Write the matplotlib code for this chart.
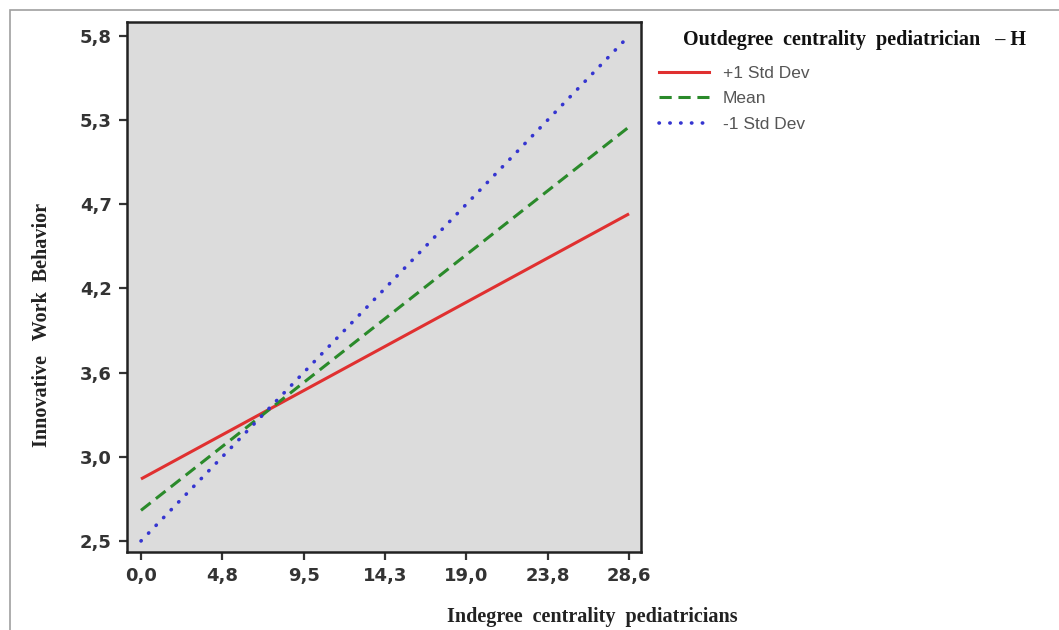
import numpy as np
import matplotlib
matplotlib.use('Agg')
import matplotlib.pyplot as plt
from matplotlib.lines import Line2D
from matplotlib.patches import Rectangle

# ── Data ──────────────────────────────────────────────────
x_range = [0.0, 28.6]
series_names = ['+1 Std Dev', 'Mean', '-1 Std Dev']
plus_sd = [2.905, 4.637]
mean_vals = [2.70, 5.205]
minus_sd = [2.50, 5.80]

x_ticks = np.linspace(0.0, 28.6, 7)
x_tick_labels = ['0,0', '4,8', '9,5', '14,3', '19,0', '23,8', '28,6']
y_ticks = np.linspace(2.5, 5.8, 7)
y_tick_labels = ['2,5', '3,0', '3,6', '4,2', '4,7', '5,3', '5,8']

colors = ['#e03030', '#2a8a2a', '#3535d0']

fig = plt.figure(figsize=(10.59, 6.30), dpi=100)
fig.patch.set_facecolor('white')

# outer grey frame
fig.patches.append(Rectangle((10 / 1059, -0.05), 1.1, 1 - 10 / 630 + 0.05,
                             transform=fig.transFigure, fill=False,
                             edgecolor='#a0a0a0', linewidth=1.2))

ax = fig.add_axes([127 / 1059, 1 - 552 / 630, (641 - 127) / 1059, (552 - 22) / 630])
ax.set_facecolor('#dcdcdc')

ax.plot(x_range, plus_sd, color=colors[0], lw=2.2, solid_capstyle='butt')
ax.plot(x_range, mean_vals, color=colors[1], lw=2.2, linestyle=(0, (4, 2.2)))
ax.plot(x_range, minus_sd, color=colors[2], lw=2.6, linestyle=(0, (0.1, 2.9)),
        dash_capstyle='round')

ax.set_xlim(-0.82, 29.3)
ax.set_ylim(2.428, 5.89)
ax.set_xticks(x_ticks)
ax.set_xticklabels(x_tick_labels)
ax.set_yticks(y_ticks)
ax.set_yticklabels(y_tick_labels)

for s in ax.spines.values():
    s.set_linewidth(1.8)
    s.set_color('#222222')
ax.tick_params(direction='out', length=6, width=1.6, color='#333333',
               labelsize=13, labelcolor='#333333', pad=5)
for lbl in ax.get_xticklabels() + ax.get_yticklabels():
    lbl.set_fontweight('bold')
    lbl.set_family('DejaVu Sans')

fig.text(42 / 1059, 1 - 325 / 630, 'Innovative   Work  Behavior', rotation=90,
         ha='center', va='center', family='Liberation Serif', fontweight='bold',
         fontsize=14.5, color='#222222')
fig.text(592 / 1059, 1 - 617 / 630, 'Indegree  centrality  pediatricians',
         ha='center', va='center', family='Liberation Serif', fontweight='bold',
         fontsize=14.5, color='#222222')

fig.text(683 / 1059, 1 - 40 / 630, 'Outdegree  centrality  pediatrician   \u2013 H',
         ha='left', va='center', family='Liberation Serif', fontweight='bold',
         fontsize=14.5, color='#111111')

handles = [Line2D([], [], color=colors[0], lw=2.2),
           Line2D([], [], color=colors[1], lw=2.2, linestyle=(0, (4, 2.2))),
           Line2D([], [], color=colors[2], lw=2.6, linestyle=(0, (0.1, 2.9)),
                  dash_capstyle='round')]
leg = fig.legend(handles, series_names, loc='upper left',
                 bbox_to_anchor=(643 / 1059, 1 - 50 / 630), frameon=False,
                 handlelength=2.9, handletextpad=0.8, labelspacing=0.6,
                 prop={'family': 'Liberation Sans', 'size': 12.5})
for t in leg.get_texts():
    t.set_color('#555555')

plt.savefig('out.png', dpi=100)
plt.close()
